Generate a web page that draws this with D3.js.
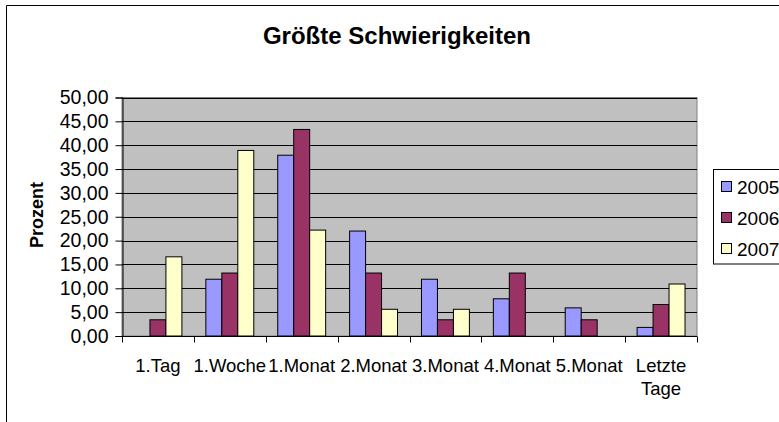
<!DOCTYPE html>
<html>
<head>
<meta charset="utf-8">
<script src="https://cdn.jsdelivr.net/npm/d3@7"></script>
<style>
  html, body { margin: 0; padding: 0; background: #fff; }
  svg { display: block; }
  text { font-family: Arial, "Liberation Sans", sans-serif; fill: #000; }
</style>
</head>
<body>
<svg id="chart" width="779" height="422"></svg>
<script>
const categories = ["1.Tag", "1.Woche", "1.Monat", "2.Monat", "3.Monat", "4.Monat", "5.Monat", "Letzte Tage"];
const seriesNames = ["2005", "2006", "2007"];
const values2005 = [null, 11.9, 37.9, 22.0, 11.9, 7.8, 5.9, 1.8];
const values2006 = [3.4, 13.2, 43.3, 13.2, 3.4, 13.2, 3.4, 6.6];
const values2007 = [16.6, 38.9, 22.2, 5.6, 5.6, null, null, 10.9];
const yTicks = [0, 5, 10, 15, 20, 25, 30, 35, 40, 45, 50];
const colors = ["#9999FF", "#993366", "#FFFFCC"];
const title = "Größte Schwierigkeiten";
const yTitle = "Prozent";

const seriesValues = [values2005, values2006, values2007];
const svg = d3.select("#chart");

// outer chart frame
svg.append("path")
  .attr("d", "M6.5,422 L6.5,5.5 L779,5.5")
  .attr("fill", "none").attr("stroke", "#000").attr("stroke-width", 1);

const plot = { left: 122, right: 697, top: 97.5, bottom: 336 };

const x = d3.scaleBand().domain(categories).range([plot.left, plot.right]).padding(0);
const xs = d3.scaleBand().domain(seriesNames).range([0, x.bandwidth()]).paddingInner(0).paddingOuter(0.75);
const y = d3.scaleLinear().domain([0, 50]).range([plot.bottom, plot.top]);

// plot background
svg.append("rect")
  .attr("x", plot.left).attr("y", plot.top)
  .attr("width", plot.right - plot.left).attr("height", plot.bottom - plot.top)
  .attr("fill", "#C0C0C0").attr("stroke", "#808080").attr("stroke-width", 1);

// gridlines
svg.append("g").selectAll("line").data(yTicks.filter(t => t > 0)).join("line")
  .attr("x1", plot.left).attr("x2", plot.right)
  .attr("y1", d => Math.round(y(d)) + 0.5).attr("y2", d => Math.round(y(d)) + 0.5)
  .attr("stroke", "#000").attr("stroke-width", 1);

// bars
const groups = svg.append("g").selectAll("g").data(seriesNames).join("g")
  .attr("fill", (d, i) => colors[i]);
groups.each(function(s, si) {
  const data = categories.map((c, ci) => ({ c, v: seriesValues[si][ci] })).filter(d => d.v != null);
  d3.select(this).selectAll("rect").data(data).join("rect")
    .attr("x", d => x(d.c) + xs(s))
    .attr("y", d => y(d.v))
    .attr("width", xs.bandwidth())
    .attr("height", d => y(0) - y(d.v))
    .attr("stroke", "#000").attr("stroke-width", 1);
});

// y axis
const fmt = d3.formatLocale({ decimal: ",", thousands: ".", grouping: [3], currency: ["", "€"] }).format(".2f");
const yAxis = d3.axisLeft(y).tickValues(yTicks).tickFormat(fmt).tickSize(7).tickPadding(7);
const yg = svg.append("g").attr("transform", `translate(${plot.left + 0.5},0)`).call(yAxis);
yg.select(".domain").attr("stroke", "#000");
yg.selectAll(".tick line").attr("stroke", "#000");
yg.selectAll(".tick text").attr("font-size", "19.5px").attr("font-family", "Arial, 'Liberation Sans', sans-serif").attr("fill", "#000");

// x axis
const xAxis = d3.axisBottom(x).tickSize(0).tickFormat("");
const xg = svg.append("g").attr("transform", `translate(0,${plot.bottom + 0.5})`).call(xAxis);
xg.select(".domain").attr("stroke", "#000").attr("d", `M${plot.left},0H${plot.right}`);
const boundaries = categories.map(c => x(c)).concat([x(categories[categories.length - 1]) + x.bandwidth()]);
xg.selectAll(".bound").data(boundaries).join("line")
  .attr("x1", d => Math.round(d) + 0.5).attr("x2", d => Math.round(d) + 0.5)
  .attr("y1", 0).attr("y2", 6).attr("stroke", "#000");

// category labels
const labels = svg.append("g").selectAll("text").data(categories).join("text")
  .attr("x", d => x(d) + x.bandwidth() / 2)
  .attr("y", 371.5)
  .attr("text-anchor", "middle")
  .attr("font-size", "18.5px");
labels.each(function(d) {
  const words = d.split(" ");
  const t = d3.select(this);
  if (d === "Letzte Tage") {
    words.forEach((w, i) => t.append("tspan").attr("x", x(d) + x.bandwidth() / 2).attr("dy", i === 0 ? 0 : 23.5).text(w));
  } else {
    t.text(d);
  }
});

// title
svg.append("text")
  .attr("x", 397).attr("y", 43.5)
  .attr("text-anchor", "middle")
  .attr("font-size", "24px").attr("font-weight", "bold")
  .text(title);

// y title
svg.append("text")
  .attr("transform", `translate(43,215) rotate(-90)`)
  .attr("text-anchor", "middle")
  .attr("font-size", "18px").attr("font-weight", "bold")
  .text(yTitle);

// legend
const lg = svg.append("g");
lg.append("rect").attr("x", 713.5).attr("y", 169.5).attr("width", 80).attr("height", 94.5)
  .attr("fill", "#fff").attr("stroke", "#000");
const ly = [187, 218, 249];
seriesNames.forEach((s, i) => {
  lg.append("rect").attr("x", 721.5).attr("y", ly[i] - 5.5).attr("width", 10).attr("height", 10)
    .attr("fill", colors[i]).attr("stroke", "#000");
  lg.append("text").attr("x", 737).attr("y", ly[i] + 6.5).attr("font-size", "19px").text(s);
});
</script>
</body>
</html>
